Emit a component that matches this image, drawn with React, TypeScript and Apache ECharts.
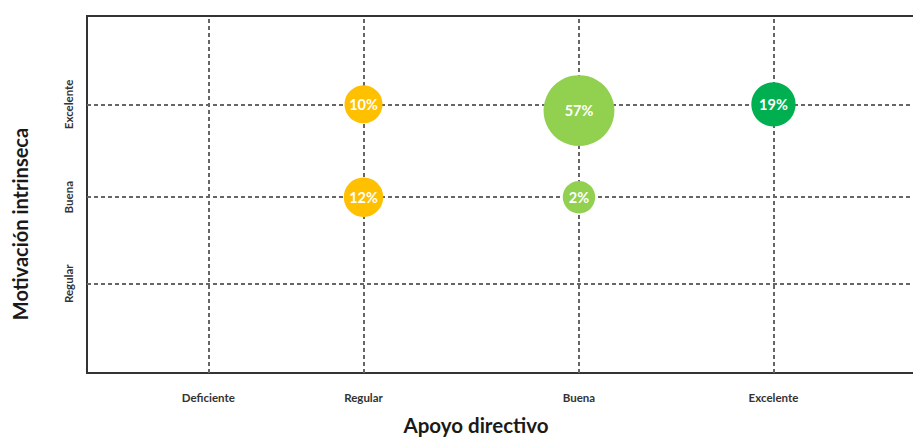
import React, { useEffect, useRef } from "react";
import * as echarts from "echarts";

// Category names along each axis
const apoyoLevels = ["Deficiente", "Regular", "Buena", "Excelente"];
const motivacionLevels = ["Regular", "Buena", "Excelente"];

// Where each category sits on the numeric axes
const apoyoPos = [1.427, 3.253, 5.788, 8.076];
const motivacionPos = [1, 1.97, 3.01];

// Bubbles: support level, motivation level, share of respondents (%)
const bubbleApoyo = ["Regular", "Regular", "Buena", "Buena", "Excelente"];
const bubbleMotivacion = ["Excelente", "Buena", "Excelente", "Buena", "Excelente"];
const bubblePct = [10, 12, 57, 2, 19];
const bubbleYNudge = [0, 0, -0.07, 0, 0];

// Fill colour per support level
const levelColors: Record<string, string> = {
  Regular: "#FFC000",
  Buena: "#92D050",
  Excelente: "#00B050",
};

const FONT = "Lato, 'Noto Sans', sans-serif";

function nearestLabel(v: number, pos: number[], names: string[]) {
  let best = 0;
  for (let i = 1; i < pos.length; i++) {
    if (Math.abs(pos[i] - v) < Math.abs(pos[best] - v)) best = i;
  }
  return names[best];
}

export default function App() {
  const ref = useRef<HTMLDivElement>(null);

  useEffect(() => {
    if (!ref.current) return;
    const chart = echarts.init(ref.current, null, { renderer: "svg" });

    const bubbles = bubblePct.map((pct, i) => {
      const xi = apoyoLevels.indexOf(bubbleApoyo[i]);
      const yi = motivacionLevels.indexOf(bubbleMotivacion[i]);
      return {
        value: [apoyoPos[xi], motivacionPos[yi] + bubbleYNudge[i], pct],
        itemStyle: { color: levelColors[bubbleApoyo[i]], opacity: 1 },
      };
    });

    const dashed = {
      color: "#666666",
      width: 2,
      type: [4, 3] as number[],
    };

    chart.setOption({
      animation: false,
      backgroundColor: "#ffffff",
      grid: {
        left: 87,
        top: 16,
        width: 850,
        height: 357,
        outerBoundsMode: "none",
        containLabel: false,
        show: true,
        borderColor: "#333333",
        borderWidth: 2,
        backgroundColor: "transparent",
      },
      xAxis: {
        type: "value",
        min: 0,
        max: 10,
        axisLine: { show: false },
        axisTick: { show: false },
        splitLine: { show: false },
        axisLabel: {
          customValues: apoyoPos,
          formatter: (v: number) => nearestLabel(v, apoyoPos, apoyoLevels),
          fontFamily: FONT,
          fontWeight: "bold",
          fontSize: 11.5,
          color: "#333333",
          margin: 18,
        },
      },
      yAxis: {
        type: "value",
        min: 0,
        max: 4,
        axisLine: { show: false },
        axisTick: { show: false },
        splitLine: { show: false },
        axisLabel: {
          customValues: motivacionPos,
          formatter: (v: number) => nearestLabel(v, motivacionPos, motivacionLevels),
          rotate: 90,
          fontFamily: FONT,
          fontWeight: "bold",
          fontSize: 11.5,
          color: "#333333",
          margin: 13,
        },
      },
      graphic: [
        {
          type: "text",
          x: 20,
          y: 224,
          rotation: Math.PI / 2,
          style: {
            text: "Motivación intrinseca",
            fontFamily: FONT,
            fontWeight: "bold",
            fontSize: 20,
            fill: "#1a1a1a",
            align: "center",
            verticalAlign: "middle",
          },
        },
        {
          type: "text",
          x: 476,
          y: 425,
          style: {
            text: "Apoyo directivo",
            fontFamily: FONT,
            fontWeight: "bold",
            fontSize: 20.5,
            fill: "#1a1a1a",
            align: "center",
            verticalAlign: "middle",
          },
        },
      ],
      series: [
        {
          type: "scatter",
          z: 1,
          data: [],
          markLine: {
            silent: true,
            symbol: "none",
            label: { show: false },
            lineStyle: dashed,
            data: [
              ...apoyoPos.map((v) => ({ xAxis: v })),
              ...motivacionPos.map((v) => ({ yAxis: v })),
            ],
          },
        },
        {
          type: "scatter",
          z: 5,
          data: bubbles,
          symbolSize: (d: number[]) => 31 + 0.7 * d[2],
          label: {
            show: true,
            position: "inside",
            formatter: (p: any) => `${p.value[2]}%`,
            color: "#ffffff",
            fontFamily: FONT,
            fontWeight: "bold",
            fontSize: 14.5,
          },
        },
      ],
    });

    return () => chart.dispose();
  }, []);

  return (
    <div
      ref={ref}
      style={{ position: "absolute", left: 0, top: 0, width: 913, height: 437 }}
    />
  );
}
